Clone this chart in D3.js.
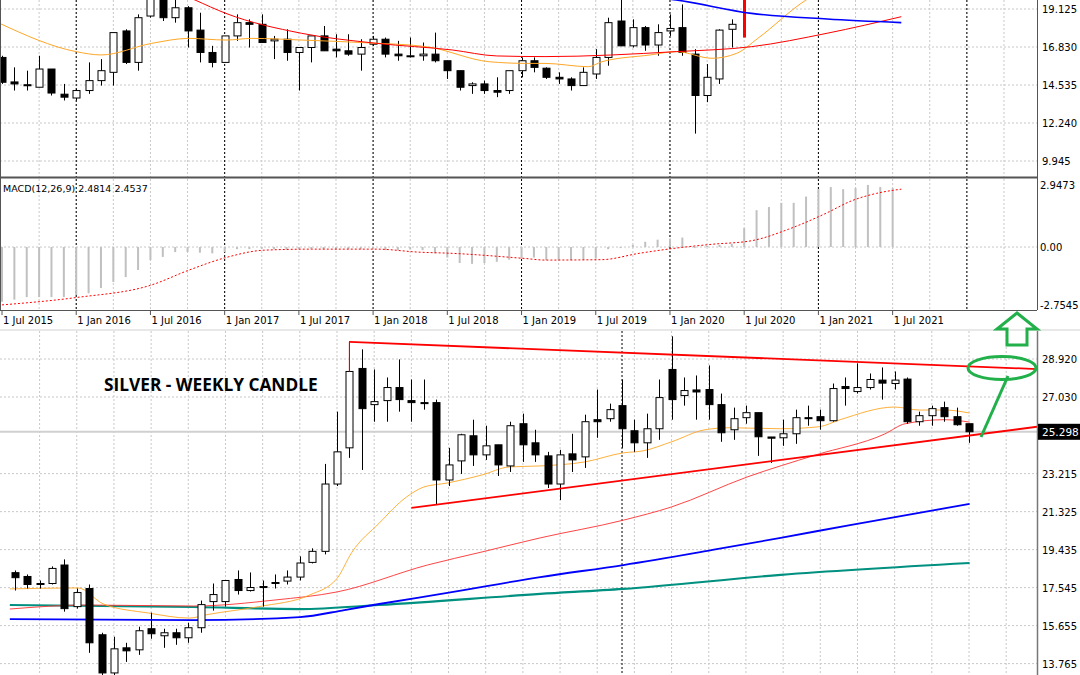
<!DOCTYPE html>
<html><head><meta charset="utf-8">
<script src="https://cdn.jsdelivr.net/npm/d3@7"></script>
<style>body{margin:0;background:#fff}svg{display:block}</style>
</head><body><svg id="c" width="1080" height="675"></svg>
<script>
// ---- Monthly (top) candles [open, high, low, close]
const monthlyOHLC = [
[16.2,16.3,14.6,14.7],[14.72,15.6,14.2,14.6],[14.55,15.4,14.2,14.5],[14.4,16.3,14.4,15.5],[15.5,15.5,13.9,14.05],
[13.98,14.6,13.6,13.8],[13.75,14.3,13.6,14.2],[14.2,15.9,14.0,14.8],[14.8,16.1,14.5,15.4],[15.3,17.7,14.5,17.7],
[17.8,17.9,15.8,15.9],[15.9,18.8,15.4,18.6],[18.7,21,18.6,20.0],[20.0,21,18.4,18.6],[18.6,20,18.3,19.2],
[19.2,19.3,16.8,17.8],[17.85,18.9,15.9,16.5],[16.5,16.9,15.6,15.9],[15.9,17.5,15.9,17.5],[17.5,18.8,17.2,18.3],
[18.3,18.5,16.8,18.2],[18.2,18.8,17.1,17.1],[17.2,17.5,16.1,17.3],[17.3,17.9,16.0,16.5],[16.5,16.8,14.2,16.8],
[16.8,17.5,15.9,17.5],[17.5,18.1,16.6,16.6],[16.7,17.6,16.2,16.6],[16.6,17.6,16.3,16.4],[16.4,17.3,15.4,16.8],
[17.0,17.5,16.9,17.3],[17.3,17.4,16.2,16.4],[16.4,17.2,16.0,16.3],[16.3,17.4,16.2,16.3],[16.3,17.1,16.0,16.4],
[16.4,17.7,15.9,16.0],[16.0,16.0,14.9,15.4],[15.4,15.4,14.2,14.4],[14.5,14.7,14.0,14.6],[14.6,14.8,14.0,14.2],
[14.2,15.0,13.8,14.1],[14.2,15.4,14.0,15.4],[15.4,16.2,15.0,16.0],[16.0,16.2,15.3,15.6],[15.55,15.6,14.9,15.0],
[15.0,15.3,14.6,14.9],[14.9,15.0,14.2,14.5],[14.5,15.6,14.5,15.3],[15.2,16.7,14.9,16.2],[16.2,18.6,15.7,18.3],
[18.4,20.0,16.9,16.9],[16.9,18.5,16.8,18.0],[18.0,18.1,16.6,16.95],[16.95,18.2,16.3,17.7],[17.8,18.8,17.5,17.95],
[18.0,19.4,16.3,16.5],[16.4,16.7,11.6,13.9],[13.9,15.8,13.5,15.0],[14.9,17.9,14.6,17.85],[17.9,18.5,16.8,18.2],
[18.2,25,17.4,24.4]];
const monthlyHighlight = 60;
// moving averages on the monthly panel [index, value]
const mOrange = [[-0.2,18.26],[6,16.55],[8,16.35],[12.1,17.05],[15.1,17.35],[18.1,17.25],[20.2,17.35],[24.2,17.25],[29.3,17.09],[34.3,16.85],[39.4,15.94],[42.4,15.84],[43.9,15.84],[47.4,15.64],[48.5,15.94],[52.4,16.35],[54.5,16.55],[57.4,16.15],[59.4,16.45],[61.1,17.35],[65,19.67],[67,20.5]];
const mRed = [[14,20.2],[15.6,19.67],[18.1,18.86],[24.2,17.66],[30.3,17.05],[36.4,16.65],[40,16.29],[43.9,16.25],[54.5,16.55],[60.6,16.85],[66.7,17.66],[72.7,18.66]];
const mBlue = [[52,19.9],[54.5,19.67],[60.6,18.86],[66.7,18.52],[72.7,18.3]];
const monthlyTicks = [19.125,16.830,14.535,12.240,9.945];
// ---- MACD
const macdHist = [-2.6,-2.5,-2.38,-2.38,-2.38,-2.38,-2.28,-2.2,-1.95,-1.66,-1.43,-1.09,-0.62,-0.47,-0.24,-0.24,-0.27,-0.3,-0.24,-0.1,
-0.1,-0.08,-0.1,-0.12,-0.1,-0.08,-0.1,-0.12,-0.1,-0.1,-0.1,-0.15,-0.15,-0.12,-0.15,-0.3,-0.5,-0.76,-0.8,-0.76,
-0.7,-0.6,-0.55,-0.5,-0.62,-0.62,-0.62,-0.62,-0.55,-0.1,-0.05,0.1,0.25,0.35,0.4,0.45,-0.05,0.05,0.1,0.15,
0.9,1.75,1.9,2.1,2.1,2.4,2.75,2.85,2.75,2.8,2.95,2.85,2.8];
const macdSignal = [[0,-2.75],[6,-2.4],[12.1,-1.8],[15.1,-1.1],[18.1,-0.5],[21.2,-0.15],[25,-0.1],[30.3,-0.1],[33.6,-0.24],[36.4,-0.3],[42.4,-0.55],[43.9,-0.62],[48.5,-0.6],[51.5,-0.3],[54.5,-0.05],[57.4,0.13],[60.6,0.3],[63.6,0.85],[66.6,1.6],[68.7,2.2],[70.7,2.55],[72.7,2.75]];
const macdTicks = [2.9473,0.00,-2.7545];
const macdLabel = "MACD(12,26,9) 2.4814 2.4537";
const dateLabels = ["1 Jul 2015","1 Jan 2016","1 Jul 2016","1 Jan 2017","1 Jul 2017","1 Jan 2018","1 Jul 2018","1 Jan 2019","1 Jul 2019","1 Jan 2020","1 Jul 2020","1 Jan 2021","1 Jul 2021"];
const periodSeparators = [6,18,30,42,54,66,78];
// ---- Weekly candles [open, high, low, close]
const weeklyOHLC = [
[18.29,18.4,17.4,18.04],[18.1,18.2,17.5,17.7],[17.75,17.9,17.5,17.72],[17.75,18.6,17.7,18.5],[18.67,18.95,16.35,16.5],
[16.6,17.5,16.5,17.3],[17.5,17.7,14.3,14.8],[15.2,15.3,12.9,13.3],[13.3,15.1,12.9,14.5],[14.55,14.8,13.85,14.4],
[14.45,15.6,14.2,15.4],[15.5,16.3,15.0,15.25],[15.15,15.5,14.55,15.3],[15.3,15.5,14.7,15.05],[15.05,15.8,14.8,15.55],
[15.55,16.9,15.3,16.7],[16.85,17.75,16.4,17.2],[16.85,17.9,16.6,17.9],[17.95,18.4,17.2,17.4],[17.4,18.3,17.35,17.55],
[17.55,17.9,16.6,17.6],[17.75,18.2,17.5,17.8],[17.87,18.4,17.7,18.07],[18.07,19.1,17.9,18.77],[18.8,19.5,18.75,19.35],
[19.35,23.7,19.2,22.7],[22.7,26.3,22.6,24.3],[24.5,29.8,24.0,28.3],[28.45,29.4,23.4,26.45],[26.65,28.4,25.8,26.8],
[26.85,28.0,25.8,27.5],[27.5,28.9,26.3,26.9],[26.85,27.9,25.8,26.75],[26.75,27.9,26.4,26.7],[26.75,26.9,21.65,22.9],
[22.9,24.5,22.6,23.65],[23.85,25.2,23.2,25.15],[25.1,25.9,23.6,24.15],[24.15,25.6,23.9,24.6],[24.65,24.65,23.1,23.65],
[23.6,25.8,23.3,25.6],[25.7,26.2,23.8,24.65],[24.75,25.4,23.8,24.15],[24.1,24.3,22.5,22.7],[22.7,24.4,21.9,24.15],
[24.2,25.2,23.3,23.9],[24.05,26.15,23.5,25.8],[25.9,27.4,25.0,25.8],[25.95,26.7,25.8,26.4],[26.6,27.9,24.5,25.45],
[25.35,25.9,24.3,24.75],[24.75,26.2,24.0,25.45],[25.45,27.9,24.9,27.0],[28.4,30.05,25.9,26.9],[27.1,28.0,26.6,27.35],
[27.38,28.1,25.9,27.28],[27.4,28.6,25.9,26.65],[26.65,27.2,24.8,25.25],[25.4,26.5,24.9,25.95],[26.0,26.6,25.7,26.25],
[26.25,26.25,24.1,25.05],[25.04,25.04,23.75,24.98],[25.0,25.9,24.6,25.2],[25.2,26.4,24.7,26.0],[26.0,26.6,25.6,25.97],
[26.05,26.4,25.4,25.85],[25.85,27.7,25.8,27.45],[27.55,28.0,26.6,27.45],[27.3,28.7,27.2,27.5],[27.5,28.2,27.4,27.9],
[27.87,28.5,26.9,27.72],[27.7,28.3,27.4,27.87],[27.92,28.0,25.7,25.8],[25.8,26.3,25.6,26.1],[26.1,26.6,25.6,26.45],
[26.5,26.8,25.8,26.05],[26.05,26.5,25.6,25.65],[25.7,25.7,24.75,25.3]];
const wOrange = [[-0.4,17.48],[5.1,17.53],[7.15,16.73],[10.8,16.28],[14.1,16.03],[15.5,16.2],[19.7,16.6],[23.8,17.18],[26,18.0],[27.2,19.3],[29.4,20.75],[31.6,22.05],[33,22.55],[34.9,22.75],[37.7,23.15],[39.9,23.55],[42.4,23.6],[46,23.8],[49.1,24.25],[50.7,24.35],[53,24.8],[55.7,25.4],[57.7,25.5],[61.8,25.45],[64.9,25.55],[66.6,25.9],[71,26.53],[73,26.38],[75.05,26.38],[77.05,26.23]];
const wRed = [[-0.4,16.48],[5.8,16.68],[14.4,16.63],[21,16.93],[26,17.33],[33.3,18.67],[37.7,19.32],[42.4,20.02],[49.1,20.9],[53,21.56],[59.1,23.05],[64.6,24.14],[70.2,25.19],[71.85,25.7],[75.05,25.9],[77.05,25.78]];
const wBlue = [[-0.4,15.98],[14.4,15.93],[23,16.08],[26.6,16.43],[29.4,16.73],[34.9,17.28],[42.4,18.07],[49.1,18.67],[56.3,19.42],[61.8,20.02],[67.4,20.66],[77.05,21.71]];
const wTeal = [[-0.4,16.68],[14.4,16.58],[23,16.48],[29.4,16.68],[42.4,17.23],[49.1,17.48],[61.8,18.18],[77.05,18.77]];
const channelTop = [[27,29.77],[82.5,28.42]];
const channelBottom = [[32,21.51],[82.5,25.55]];
const weeklyTicks = [28.920,27.030,23.215,21.325,19.435,17.545,15.655,13.765];
const lastPrice = 25.298;
const title = "SILVER - WEEKLY CANDLE";

const svg = d3.select("#c");
const R = 1037;
const FONT = "DejaVu Sans, Verdana, sans-serif";
const defs = svg.append("defs");
defs.append("clipPath").attr("id","cTop").append("rect").attr("x",0).attr("y",0).attr("width",R).attr("height",177);
defs.append("clipPath").attr("id","cMacd").append("rect").attr("x",0).attr("y",179).attr("width",R).attr("height",131);
defs.append("clipPath").attr("id","cW").append("rect").attr("x",0).attr("y",331).attr("width",R).attr("height",344);

const xm = d3.scaleLinear().domain([0,72]).range([2,2+72*12.37]);
const ym = d3.scaleLinear().domain([19.125,9.945]).range([9,161]);
const yd = d3.scaleLinear().domain([2.9473,-2.7545]).range([185,305]);
const xw = d3.scaleLinear().domain([0,77]).range([14.8,969]);
const yw = d3.scaleLinear().domain([28.92,13.765]).range([359,663.6]);

function grid(g, xs, xvals, ys, yvals, y0, y1){
  g.selectAll(null).data(yvals).join("line").attr("x1",0).attr("x2",R).attr("y1",d=>ys(d)).attr("y2",d=>ys(d))
   .attr("stroke","#c8c8c8").attr("stroke-dasharray","2,2");
  g.selectAll(null).data(xvals).join("line").attr("x1",d=>xs(d)).attr("x2",d=>xs(d)).attr("y1",y0).attr("y2",y1)
   .attr("stroke","#c8c8c8").attr("stroke-dasharray","2,2");
}
function candles(g, data, xs, ys, w, hl){
  const c = g.selectAll(null).data(data).join("g");
  c.append("line").attr("x1",(d,i)=>Math.round(xs(i))+0.5).attr("x2",(d,i)=>Math.round(xs(i))+0.5)
    .attr("y1",d=>ys(d[1])).attr("y2",d=>ys(d[2])).attr("stroke",(d,i)=>i===hl?"#f00":"#000").attr("stroke-width",(d,i)=>i===hl?3:1);
  c.filter((d,i)=>i!==hl).append("rect").attr("x",function(d){return Math.round(xs(data.indexOf(d)))-w/2+0.5;}).attr("width",w)
    .attr("y",d=>ys(Math.max(d[0],d[3]))).attr("height",d=>Math.max(1,Math.abs(ys(d[0])-ys(d[3]))))
    .attr("fill",d=>d[3]>=d[0]?"#fff":"#000").attr("stroke","#000");
}
const lineOf = (xs,ys)=>d3.line().x(d=>xs(d[0])).y(d=>ys(d[1])).curve(d3.curveMonotoneX);

// ---- top monthly panel
const gT = svg.append("g").attr("clip-path","url(#cTop)");
grid(gT, xm, d3.range(3,85,3), ym, monthlyTicks, 0, 177);
gT.selectAll(null).data(periodSeparators).join("line").attr("x1",d=>xm(d)).attr("x2",d=>xm(d)).attr("y1",0).attr("y2",177)
  .attr("stroke","#000").attr("stroke-dasharray","2,2");
candles(gT, monthlyOHLC, xm, ym, 7, monthlyHighlight);
[[mOrange,"#ffa726",1],[mRed,"#f00",1],[mBlue,"#00f",1.6]].forEach(([d,c,w])=>
  gT.append("path").attr("d",lineOf(xm,ym)(d)).attr("fill","none").attr("stroke",c).attr("stroke-width",w));

// ---- MACD
const gM = svg.append("g").attr("clip-path","url(#cMacd)");
grid(gM, xm, d3.range(3,85,3), yd, [0], 179, 310);
gM.selectAll(null).data(periodSeparators).join("line").attr("x1",d=>xm(d)).attr("x2",d=>xm(d)).attr("y1",179).attr("y2",310)
  .attr("stroke","#000").attr("stroke-dasharray","2,2");
gM.selectAll(null).data(macdHist).join("line").attr("x1",(d,i)=>xm(i)).attr("x2",(d,i)=>xm(i))
  .attr("y1",yd(0)).attr("y2",d=>yd(d)).attr("stroke","#c0c0c0").attr("stroke-width",2);
gM.append("path").attr("d",lineOf(xm,yd)(macdSignal)).attr("fill","none").attr("stroke","#f00").attr("stroke-dasharray","2,2");
svg.append("text").attr("x",3).attr("y",192).attr("font-family",FONT).attr("font-size",9.5).attr("fill","#000").text(macdLabel);

// panel borders
svg.append("line").attr("x1",0).attr("x2",R).attr("y1",177.5).attr("y2",177.5).attr("stroke","#555").attr("stroke-width",2);
svg.append("line").attr("x1",0).attr("x2",R).attr("y1",310.5).attr("y2",310.5).attr("stroke","#555");
svg.append("line").attr("x1",0.5).attr("x2",0.5).attr("y1",0).attr("y2",310).attr("stroke","#555");
svg.append("line").attr("x1",R+0.5).attr("x2",R+0.5).attr("y1",0).attr("y2",310).attr("stroke","#555");
svg.append("rect").attr("x",0).attr("y",329).attr("width",1080).attr("height",2).attr("fill","#e8e8e8");

// axes labels top
const axT = svg.append("g").attr("font-family",FONT).attr("font-size",10).attr("fill","#000");
axT.selectAll(null).data(monthlyTicks).join("text").attr("x",R+5).attr("y",d=>ym(d)+4).text(d=>d.toFixed(3));
axT.selectAll(null).data(macdTicks).join("text").attr("x",R+3).attr("y",d=>yd(d)+4).text(d=>d===0?"0.00":d.toFixed(4));
axT.selectAll(null).data(dateLabels).join("text").attr("x",(d,i)=>xm(i*6)+1).attr("y",324).text(d=>d);
svg.selectAll(null).data(d3.range(0,13)).join("line").attr("x1",d=>xm(d*6)).attr("x2",d=>xm(d*6)).attr("y1",311).attr("y2",315).attr("stroke","#555");

// ---- weekly panel
const gW = svg.append("g").attr("clip-path","url(#cW)");
grid(gW, xw, d3.range(2,90,3), yw, weeklyTicks, 331, 675);
gW.append("line").attr("x1",xw(49)).attr("x2",xw(49)).attr("y1",331).attr("y2",675).attr("stroke","#000").attr("stroke-dasharray","2,2");
gW.append("line").attr("x1",0).attr("x2",R).attr("y1",yw(lastPrice)).attr("y2",yw(lastPrice)).attr("stroke","#d0d0d0").attr("stroke-width",2);
[[wTeal,"#009080",2.2],[wBlue,"#0000ff",1.8],[wRed,"#ff3030",0.9],[wOrange,"#ffa726",0.9]].forEach(([d,c,w])=>
  gW.append("path").attr("d",lineOf(xw,yw)(d)).attr("fill","none").attr("stroke",c).attr("stroke-width",w));
candles(gW, weeklyOHLC, xw, yw, 7, -1);
[channelTop, channelBottom].forEach(d=>gW.append("path").attr("d",d3.line().x(p=>xw(p[0])).y(p=>yw(p[1]))(d))
  .attr("fill","none").attr("stroke","#f00").attr("stroke-width",1.8));
gW.append("line").attr("x1",xw(27)).attr("x2",xw(27)).attr("y1",yw(29.77)).attr("y2",yw(28.3)).attr("stroke","#f00").attr("stroke-width",1);
svg.append("line").attr("x1",R+0.5).attr("x2",R+0.5).attr("y1",331).attr("y2",675).attr("stroke","#777").attr("stroke-width",1.5);
const axW = svg.append("g").attr("font-family",FONT).attr("font-size",10).attr("fill","#000");
axW.selectAll(null).data(weeklyTicks).join("text").attr("x",R+5).attr("y",d=>yw(d)+4).text(d=>d.toFixed(3));
svg.append("rect").attr("x",R+1).attr("y",yw(lastPrice)-8).attr("width",42).attr("height",16).attr("fill","#000");
svg.append("text").attr("x",R+5).attr("y",yw(lastPrice)+4).attr("font-family",FONT).attr("font-size",10.5).attr("fill","#fff").text(lastPrice.toFixed(3));
svg.append("text").attr("x",104).attr("y",391).attr("font-family","Open Sans, sans-serif").attr("font-weight","bold")
  .attr("font-size",17.3).attr("fill","#000").text(title);

// green annotations
const G = "#22b04a";
svg.append("path").attr("d","M1017,313 L1037,329 L1027,329 L1027,345 L1007,345 L1007,329 L997,329 Z")
  .attr("fill","none").attr("stroke",G).attr("stroke-width",3).attr("stroke-linejoin","miter");
svg.append("ellipse").attr("cx",1002).attr("cy",368).attr("rx",34).attr("ry",11.5).attr("fill","none").attr("stroke",G).attr("stroke-width",3);
svg.append("line").attr("x1",981).attr("y1",437).attr("x2",1008).attr("y2",376).attr("stroke",G).attr("stroke-width",3);
</script></body></html>
